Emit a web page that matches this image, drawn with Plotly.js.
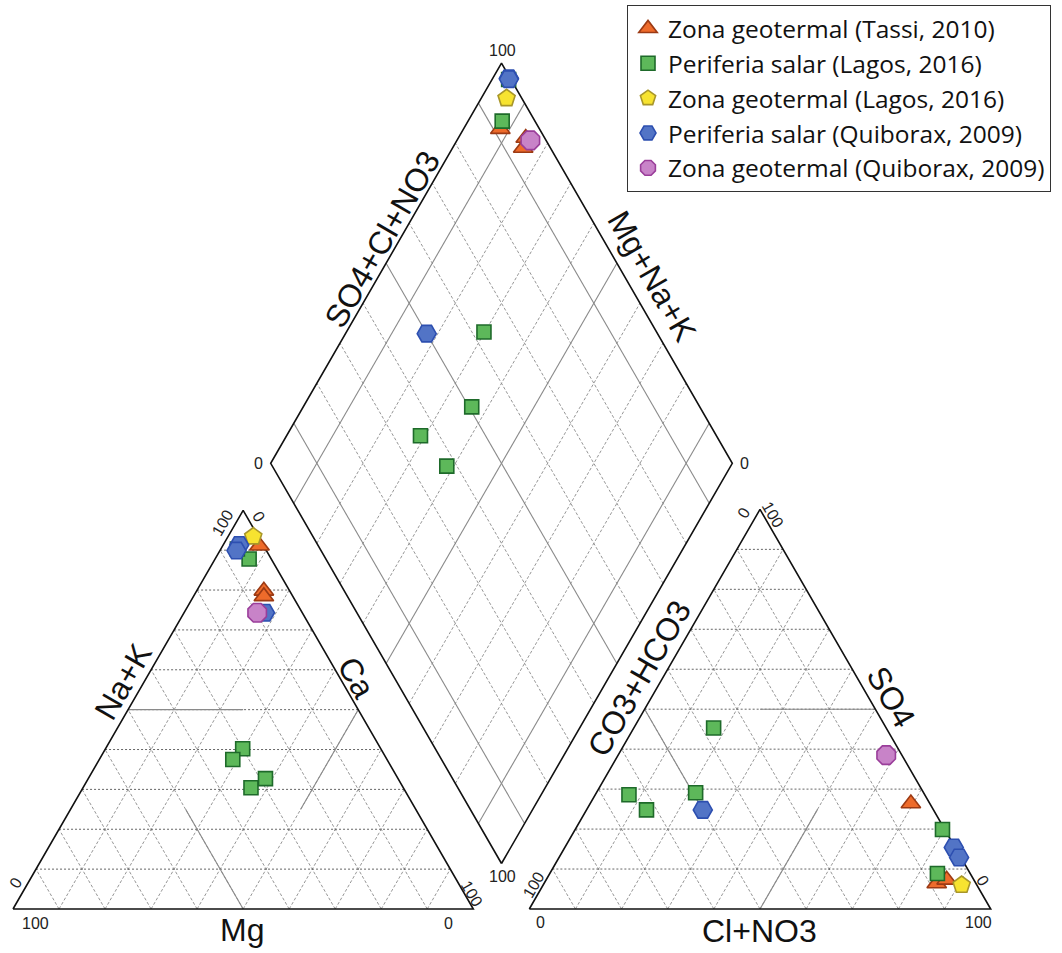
<!DOCTYPE html>
<html><head><meta charset="utf-8">
<script src="https://cdn.plot.ly/plotly-3.0.1.min.js"></script>
<style>html,body{margin:0;padding:0;background:#fff;} #chart{width:1062px;height:953px;}</style>
</head><body><div id="chart"></div>
<script>
// ---------------- DATA (% meq/L) ----------------
const seriesNames = [
  'Zona geotermal (Tassi, 2010)',
  'Periferia salar (Lagos, 2016)',
  'Zona geotermal (Lagos, 2016)',
  'Periferia salar (Quiborax, 2009)',
  'Zona geotermal (Quiborax, 2009)'
];
// Zona geotermal (Tassi, 2010)
const tassiNaK  = [91.1, 79.8, 78.4];
const tassiCa   = [8.0, 14.6, 15.3];
const tassiMg   = [0.9, 5.6, 6.3];
const tassiSO4  = [6.4, 26.4, 7.3];
const tassiCl   = [85.1, 69.5, 86.8];
const tassiHCO3 = [8.5, 4.1, 5.9];
// Periferia salar (Lagos, 2016)
const lagosSalNaK  = [40.2, 37.5, 30.4, 32.7, 87.8, 90.3];
const lagosSalCa   = [29.8, 29.0, 36.5, 38.5, 7.4, 3.6];
const lagosSalMg   = [30.0, 33.5, 33.1, 28.8, 4.8, 6.1];
const lagosSalSO4  = [45.3, 28.6, 29.1, 24.8, 8.9, 19.9];
const lagosSalCl   = [17.3, 7.3, 21.5, 13.0, 84.0, 79.6];
const lagosSalHCO3 = [37.4, 64.1, 49.4, 62.2, 7.1, 0.5];
// Zona geotermal (Lagos, 2016)
const lagosGeoNaK  = [93.4];
const lagosGeoCa   = [5.5];
const lagosGeoMg   = [1.1];
const lagosGeoSO4  = [6.0];
const lagosGeoCl   = [90.7];
const lagosGeoHCO3 = [3.3];
// Periferia salar (Quiborax, 2009)
const quiSalNaK  = [91.3, 89.9, 74.3];
const quiSalCa   = [3.5, 3.6, 17.6];
const quiSalMg   = [5.2, 6.5, 8.1];
const quiSalSO4  = [15.4, 12.9, 24.8];
const quiSalCl   = [84.3, 86.7, 25.2];
const quiSalHCO3 = [0.3, 0.4, 50.0];
// Zona geotermal (Quiborax, 2009)
const quiGeoNaK  = [74.3];
const quiGeoCa   = [15.9];
const quiGeoMg   = [9.8];
const quiGeoSO4  = [38.5];
const quiGeoCl   = [58.1];
const quiGeoHCO3 = [3.4];

const seriesData = [
  {naK: tassiNaK, ca: tassiCa, mg: tassiMg, so4: tassiSO4, cl: tassiCl, hco3: tassiHCO3},
  {naK: lagosSalNaK, ca: lagosSalCa, mg: lagosSalMg, so4: lagosSalSO4, cl: lagosSalCl, hco3: lagosSalHCO3},
  {naK: lagosGeoNaK, ca: lagosGeoCa, mg: lagosGeoMg, so4: lagosGeoSO4, cl: lagosGeoCl, hco3: lagosGeoHCO3},
  {naK: quiSalNaK, ca: quiSalCa, mg: quiSalMg, so4: quiSalSO4, cl: quiSalCl, hco3: quiSalHCO3},
  {naK: quiGeoNaK, ca: quiGeoCa, mg: quiGeoMg, so4: quiGeoSO4, cl: quiGeoCl, hco3: quiGeoHCO3}
];

// ---------------- STYLES ----------------
const seriesStyle = [
  {symbol: 'triangle-up', size: 17, fill: '#EE6B2B', line: '#9C3A14'},
  {symbol: 'square',      size: 14, fill: '#5DB85A', line: '#1E6A2A'},
  {symbol: 'pentagon',    size: 18, fill: '#F7E330', line: '#A8962A'},
  {symbol: 'hexagon2',    size: 19, fill: '#5274C6', line: '#2D4FB0'},
  {symbol: 'octagon',     size: 20, fill: '#C883C8', line: '#9A3E9A'}
];

// ---------------- GEOMETRY (axis units = pixels) ----------------
const CAT = {mg: [13, 909], ca: [473.3, 909], na: [243.15, 510.3]};
const AN  = {hco3: [529.3, 909], cl: [990.7, 909], so4: [760, 509.4]};
const DIA = {b: [501.5, 863.5], l: [270.7, 463.3], r: [732.3, 463.3]};

function bary(v0, v1, v2, w0, w1, w2) {
  const s = w0 + w1 + w2;
  return [(v0[0]*w0 + v1[0]*w1 + v2[0]*w2) / s, (v0[1]*w0 + v1[1]*w1 + v2[1]*w2) / s];
}
function catPt(mg, ca, na) { return bary(CAT.mg, CAT.ca, CAT.na, mg, ca, na); }
function anPt(hco3, cl, so4) { return bary(AN.hco3, AN.cl, AN.so4, hco3, cl, so4); }
function diaPt(a, b) {
  const B = DIA.b, L = DIA.l, R = DIA.r;
  return [B[0] + a/100*(R[0]-B[0]) + b/100*(L[0]-B[0]),
          B[1] + a/100*(R[1]-B[1]) + b/100*(L[1]-B[1])];
}
function newPath() { return {x: [], y: []}; }
function seg(P, p, q) { P.x.push(p[0], q[0], null); P.y.push(p[1], q[1], null); }

const Hdash = newPath(), Ddash = newPath(), Solid = newPath(), Frame = newPath();

function triGrid(pt) {
  for (let k = 1; k <= 9; k++) {
    const f = k / 10;
    seg(Hdash, pt(1-f, 0, f), pt(0, 1-f, f));
    seg(Ddash, pt(f, 1-f, 0), pt(f, 0, 1-f));
    seg(Ddash, pt(1-f, f, 0), pt(0, f, 1-f));
  }
}
triGrid(catPt);
triGrid(anPt);
// classification (pinwheel) lines
seg(Solid, catPt(.5, 0, .5), catPt(.25, .25, .5));
seg(Solid, catPt(.5, .5, 0), catPt(.5, .25, .25));
seg(Solid, catPt(0, .5, .5), catPt(.25, .5, .25));
seg(Solid, anPt(0, .5, .5), anPt(.25, .25, .5));
seg(Solid, anPt(.5, .5, 0), anPt(.25, .5, .25));
seg(Solid, anPt(.5, 0, .5), anPt(.5, .25, .25));
// diamond grid
const diaTicks = [10, 20, 30, 40, 50, 60, 70, 80, 90];
const diaMajor = [10, 50, 90];
diaTicks.forEach(v => {
  const P = diaMajor.includes(v) ? Solid : Ddash;
  seg(P, diaPt(v, 0), diaPt(v, 100));
  seg(P, diaPt(0, v), diaPt(100, v));
});
// frames
function poly(P, pts) { pts.forEach(p => { P.x.push(p[0]); P.y.push(p[1]); }); P.x.push(pts[0][0], null); P.y.push(pts[0][1], null); }
poly(Frame, [catPt(1,0,0), catPt(0,1,0), catPt(0,0,1)]);
poly(Frame, [anPt(1,0,0), anPt(0,1,0), anPt(0,0,1)]);
poly(Frame, [diaPt(0,0), diaPt(100,0), diaPt(100,100), diaPt(0,100)]);

function lineTrace(P, color, width, dash) {
  return {type: 'scatter', mode: 'lines', x: P.x, y: P.y, showlegend: false, hoverinfo: 'skip',
          line: {color: color, width: width, dash: dash}, connectgaps: false};
}
const traces = [
  lineTrace(Ddash, '#8a8a8a', 0.9, '3px,2px'),
  lineTrace(Hdash, '#555555', 0.9, '2px,2px'),
  lineTrace(Solid, '#8a8a8a', 1.1, 'solid'),
  lineTrace(Frame, '#111111', 1.6, 'solid')
];

seriesData.forEach((d, i) => {
  const xs = [], ys = [];
  d.naK.forEach((_, j) => { const p = catPt(d.mg[j], d.ca[j], d.naK[j]); xs.push(p[0]); ys.push(p[1]); });
  d.so4.forEach((_, j) => { const p = anPt(d.hco3[j], d.cl[j], d.so4[j]); xs.push(p[0]); ys.push(p[1]); });
  d.ca.forEach((_, j) => {
    const catSum = d.naK[j] + d.ca[j] + d.mg[j];
    const anSum = d.so4[j] + d.cl[j] + d.hco3[j];
    const a = 100 - 100 * d.hco3[j] / anSum;   // SO4+Cl+NO3
    const b = 100 - 100 * d.ca[j] / catSum;    // Mg+Na+K
    const p = diaPt(a, b); xs.push(p[0]); ys.push(p[1]);
  });
  const st = seriesStyle[i];
  traces.push({type: 'scatter', mode: 'markers', name: seriesNames[i], x: xs, y: ys,
    marker: {symbol: st.symbol, size: st.size, color: st.fill, line: {color: st.line, width: 1.6}}});
});

// ---------------- TEXT ----------------
const LBL = {family: 'Liberation Sans, Arial, sans-serif', size: 32, color: '#111'};
const TCK = {family: 'Liberation Sans, Arial, sans-serif', size: 16, color: '#222'};
const labels = [
  ['SO4+Cl+NO3', 382, 240, -60, LBL], ['Mg+Na+K', 652, 276, 60, LBL],
  ['Na+K', 123, 682, -60, LBL], ['Ca', 356, 677, 60, LBL], ['Mg', 242, 930, 0, LBL],
  ['CO3+HCO3', 639, 679, -60, LBL], ['SO4', 891, 697, 60, LBL], ['Cl+NO3', 759, 931, 0, LBL],
  ['100', 222, 523, -60, TCK], ['0', 259, 516, 60, TCK], ['0', 15, 883, -60, TCK], ['100', 472, 893, 60, TCK],
  ['100', 35, 923, 0, TCK], ['0', 448, 923, 0, TCK],
  ['0', 743, 513, -60, TCK], ['100', 773, 514, 60, TCK], ['100', 533, 885, -60, TCK], ['0', 983, 880, 60, TCK],
  ['0', 540, 922, 0, TCK], ['100', 978, 922, 0, TCK],
  ['100', 502, 50, 0, TCK], ['0', 258, 463, 0, TCK], ['0', 744, 463, 0, TCK], ['100', 502, 876, 0, TCK]
];
const annotations = labels.map(l => ({text: l[0], x: l[1], y: l[2], textangle: l[3], font: l[4],
  xref: 'x', yref: 'y', showarrow: false, xanchor: 'center', yanchor: 'middle'}));

const layout = {
  width: 1062, height: 953, margin: {l: 0, r: 0, t: 0, b: 0, pad: 0},
  paper_bgcolor: '#ffffff', plot_bgcolor: '#ffffff',
  xaxis: {range: [0, 1062], visible: false, fixedrange: true},
  yaxis: {range: [953, 0], visible: false, fixedrange: true},
  showlegend: true,
  legend: {x: 627/1062, y: 1 - 5/953, xanchor: 'left', yanchor: 'top', bgcolor: '#ffffff',
           bordercolor: '#333', borderwidth: 1, font: {family: 'Open Sans, sans-serif', size: 24.5, color: '#111'},
           tracegroupgap: 0},
  annotations: annotations
};
Plotly.newPlot('chart', traces, layout, {staticPlot: true, displayModeBar: false});
</script></body></html>
